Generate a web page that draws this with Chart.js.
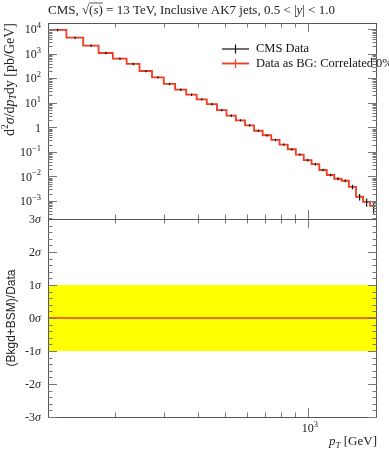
<!DOCTYPE html>
<html>
<head>
<meta charset="utf-8">
<script src="https://cdn.jsdelivr.net/npm/chart.js@4.4.1/dist/chart.umd.min.js"></script>
<style>
html, body { margin: 0; padding: 0; background: #fff; }
#wrap { position: relative; width: 389px; height: 450px; }
canvas { position: absolute; left: 0; top: 0; }
</style>
</head>
<body>
<div id="wrap">
  <canvas id="ratio" width="389" height="450"></canvas>
  <canvas id="main" width="389" height="450"></canvas>
</div>
<script>
// bin edges in pT [GeV]
const binEdges = [114, 133, 153, 174, 196, 220, 245, 272, 300, 330, 362, 395, 430, 468, 507, 548,
    592, 638, 686, 737, 790, 846, 905, 967, 1032, 1101, 1172, 1248, 1327, 1410, 1497, 1588, 1684, 1784]

// d2sigma/dpTdy [pb/GeV]
const cmsData = [9400, 4550, 2140, 1080, 633, 385, 199, 110, 59, 34.5, 21.5, 14, 8.9, 5.1, 3.0, 1.95,
    1.22, 0.73, 0.48, 0.31, 0.20, 0.129, 0.078, 0.046, 0.0316, 0.0184, 0.0115, 0.0081, 0.0067, 0.0038,
    0.00149, 0.00093, 0.00063]
const cmsErr = [1100, 520, 240, 120, 70, 42, 22, 12, 6.5, 3.8, 2.4, 1.5, 1.0, 0.56, 0.33, 0.21,
    0.13, 0.08, 0.052, 0.034, 0.022, 0.014, 0.0086, 0.0052, 0.0036, 0.0021, 0.0014, 0.0010, 0.0009, 0.0008,
    0.00045, 0.00035, 0.00032]

// ratio panel: 1 sigma band and central line
const ratioBand = [-1, 1]
const ratioCentre = 0

const xMinorTicks = [200, 300, 400, 500, 600, 700, 800, 900]
const xMajorTicks = [1000]
const xTickLabels = [{ value: 1000, base: "10", exp: "3" }]
const yDecades = [-3, -2, -1, 0, 1, 2, 3, 4]
const ySigmaTicks = [-3, -2, -1, 0, 1, 2, 3]

const xMin = 114, xMax = 1784
const yMin = 1.85e-4, yMax = 1.8e4

const RED = "#ee3d22"
const AXIS = "#555"
const SERIF = '"Liberation Serif", serif'

const drawRich = (ctx, parts, x, y, align) => {
    let w = 0
    parts.forEach(p => { ctx.font = p.font; p.w = ctx.measureText(p.t).width; w += p.w })
    let cx = align === "right" ? x - w : align === "center" ? x - w / 2 : x
    ctx.textAlign = "left"
    parts.forEach(p => {
        ctx.font = p.font
        ctx.fillText(p.t, cx, y + (p.dy || 0))
        if (p.over) {
            ctx.beginPath()
            ctx.moveTo(cx, y - 11)
            ctx.lineTo(cx + p.w, y - 11)
            ctx.lineWidth = 0.8
            ctx.stroke()
        }
        cx += p.w
    })
}

const f = (size, style = "") => `${style} ${size}px ${SERIF}`

const tick = (ctx, x1, y1, x2, y2) => {
    ctx.beginPath()
    ctx.moveTo(x1, y1)
    ctx.lineTo(x2, y2)
    ctx.stroke()
}

const xTicks = (ctx, xs, area, top, bottom) => {
    xMinorTicks.forEach(v => {
        const px = Math.round(xs.getPixelForValue(v)) + 0.5
        if (top) tick(ctx, px, area.top, px, area.top + 4.5)
        if (bottom) tick(ctx, px, area.bottom, px, area.bottom - 4.5)
    })
    xMajorTicks.forEach(v => {
        const px = Math.round(xs.getPixelForValue(v)) + 0.5
        if (top) tick(ctx, px, area.top, px, area.top + 9)
        if (bottom) tick(ctx, px, area.bottom, px, area.bottom - 9)
    })
}

const frame = (ctx, area) => {
    ctx.strokeStyle = AXIS
    ctx.lineWidth = 1
    ctx.strokeRect(area.left + 0.5, area.top + 0.5, area.right - area.left - 1, area.bottom - area.top)
}

const mainDecor = {
    id: "mainDecor",
    afterDatasetsDraw(chart) {
        const { ctx, scales: { x, y } } = chart
        ctx.save()
        ctx.strokeStyle = "#111"
        ctx.lineWidth = 1.2
        cmsData.forEach((v, i) => {
            const cx = x.getPixelForValue((binEdges[i] + binEdges[i + 1]) / 2)
            const lo = Math.max(v - cmsErr[i], yMin)
            tick(ctx, cx, y.getPixelForValue(v + cmsErr[i]), cx, y.getPixelForValue(lo))
        })
        ctx.restore()
    },
    afterDraw(chart) {
        const { ctx, chartArea: area, scales: { x, y } } = chart
        ctx.save()
        frame(ctx, area)
        ctx.strokeStyle = "#777"
        ctx.lineWidth = 1
        xTicks(ctx, x, area, true, true)
        // log y ticks, both sides
        yDecades.forEach(d => {
            for (let k = 1; k <= 9; k++) {
                const v = k * Math.pow(10, d)
                if (v < yMin || v > yMax) continue
                const py = Math.round(y.getPixelForValue(v)) + 0.5
                const len = k === 1 ? 9 : 4.5
                tick(ctx, area.left, py, area.left + len, py)
                tick(ctx, area.right, py, area.right - len, py)
            }
        })
        for (let k = 2; k <= 9; k++) {
            const v = k * 1e-4
            if (v < yMin) continue
            const py = Math.round(y.getPixelForValue(v)) + 0.5
            tick(ctx, area.left, py, area.left + 4.5, py)
            tick(ctx, area.right, py, area.right - 4.5, py)
        }
        // y tick labels
        ctx.fillStyle = "#222"
        ctx.textBaseline = "middle"
        yDecades.forEach(d => {
            const py = y.getPixelForValue(Math.pow(10, d)) + 1
            if (d === 0) {
                drawRich(ctx, [{ t: "1", font: f(12) }], 41, py, "right")
            } else {
                const e = d < 0 ? "\u2212" + (-d) : String(d)
                drawRich(ctx, [{ t: "10", font: f(12) }, { t: e, font: f(8.5), dy: -4.5 }], 41, py, "right")
            }
        })
        // title, left aligned with the frame
        ctx.textBaseline = "alphabetic"
        ctx.strokeStyle = "#222"
        drawRich(ctx, [
            { t: "CMS, \u221A", font: f(13) },
            { t: "(", font: f(13), over: true },
            { t: "s", font: f(13, "italic"), over: true },
            { t: ")", font: f(13), over: true },
            { t: " = 13 TeV, Inclusive AK7 jets, 0.5 < |", font: f(13) },
            { t: "y", font: f(13, "italic") },
            { t: "| < 1.0", font: f(13) }
        ], area.left, 14, "left")
        // y axis title
        ctx.save()
        ctx.translate(13.5, 23)
        ctx.rotate(-Math.PI / 2)
        drawRich(ctx, [
            { t: "d", font: f(14) },
            { t: "2", font: f(9.5), dy: -5.5 },
            { t: "\u03C3", font: f(14, "italic") },
            { t: "/d", font: f(14) },
            { t: "p", font: f(14, "italic") },
            { t: "T", font: f(9.5, "italic"), dy: 2.5 },
            { t: "dy [pb/GeV]", font: f(14) }
        ], 0, 0, "right")
        ctx.restore()
        // legend
        ctx.lineWidth = 1.2
        ctx.strokeStyle = "#111"
        tick(ctx, 222, 49, 249, 49)
        tick(ctx, 235.5, 44.5, 235.5, 53.5)
        ctx.strokeStyle = RED
        ctx.lineWidth = 1.8
        tick(ctx, 222, 63.5, 249, 63.5)
        ctx.lineWidth = 1.2
        tick(ctx, 235.5, 59, 235.5, 68)
        ctx.fillStyle = "#111"
        ctx.textBaseline = "middle"
        drawRich(ctx, [{ t: "CMS Data", font: f(12.5) }], 256, 49, "left")
        drawRich(ctx, [{ t: "Data as BG: Correlated 0%", font: f(12.5) }], 256, 63.5, "left")
        ctx.restore()
    }
}

const ratioDecor = {
    id: "ratioDecor",
    afterDraw(chart) {
        const { ctx, chartArea: area, scales: { x, y } } = chart
        ctx.save()
        frame(ctx, area)
        ctx.strokeStyle = "#777"
        ctx.lineWidth = 1
        xTicks(ctx, x, area, true, true)
        for (let s = -30; s <= 30; s += 2) {
            const py = Math.round(y.getPixelForValue(s / 10)) + 0.5
            const len = s % 10 === 0 ? 9 : 4.5
            tick(ctx, area.left, py, area.left + len, py)
            tick(ctx, area.right, py, area.right - len, py)
        }
        ctx.fillStyle = "#222"
        ctx.textBaseline = "middle"
        ySigmaTicks.forEach(s => {
            const py = y.getPixelForValue(s) + 1
            const n = s < 0 ? "-" + (-s) : String(s)
            drawRich(ctx, [{ t: n, font: f(12) }, { t: "\u03C3", font: f(12, "italic") }], 41, py, "right")
        })
        // x tick label
        ctx.textBaseline = "alphabetic"
        xTickLabels.forEach(l => {
            drawRich(ctx, [{ t: l.base, font: f(12) }, { t: l.exp, font: f(8.5), dy: -5 }],
                x.getPixelForValue(l.value) + 2, 432, "center")
        })
        drawRich(ctx, [
            { t: "p", font: f(13, "italic") },
            { t: "T", font: f(9, "italic"), dy: 2.5 },
            { t: " [GeV]", font: f(13) }
        ], area.right, 445, "right")
        // ratio axis title
        ctx.save()
        ctx.translate(15, (area.top + area.bottom) / 2)
        ctx.rotate(-Math.PI / 2)
        ctx.textBaseline = "alphabetic"
        drawRich(ctx, [{ t: "(Bkgd+BSM)/Data", font: '12px "Liberation Sans", sans-serif' }], 0, 0, "center")
        ctx.restore()
        ctx.restore()
    }
}

const stepPoints = cmsData.map((v, i) => ({ x: binEdges[i], y: v }))
stepPoints.push({ x: binEdges[binEdges.length - 1], y: cmsData[cmsData.length - 1] })

const baseOptions = (padding, yScale) => ({
    responsive: false,
    animation: false,
    devicePixelRatio: 1,
    layout: { padding: padding },
    scales: {
        x: { type: "logarithmic", min: xMin, max: xMax, display: false },
        y: { ...yScale, display: false }
    },
    plugins: { legend: { display: false }, tooltip: { enabled: false } }
})

new Chart(document.getElementById("main").getContext("2d"), {
    type: "line",
    data: {
        datasets: [{
            data: stepPoints,
            borderColor: RED,
            borderWidth: 1.8,
            stepped: true,
            pointRadius: 0,
            fill: false
        }]
    },
    options: baseOptions({ left: 48, right: 12, top: 23, bottom: 231 },
        { type: "logarithmic", min: yMin, max: yMax }),
    plugins: [mainDecor]
})

new Chart(document.getElementById("ratio").getContext("2d"), {
    type: "line",
    data: {
        datasets: [{
            // central line drawn above the band
            data: [{ x: xMin, y: ratioCentre }, { x: xMax, y: ratioCentre }],
            borderColor: RED,
            borderWidth: 1.5,
            pointRadius: 0,
            fill: false,
            order: 0
        }, {
            data: [{ x: xMin, y: ratioBand[1] }, { x: xMax, y: ratioBand[1] }],
            borderWidth: 0,
            pointRadius: 0,
            backgroundColor: "#ffff00",
            fill: { value: ratioBand[0] },
            order: 1
        }]
    },
    options: baseOptions({ left: 48, right: 12, top: 219, bottom: 33 },
        { type: "linear", min: -3, max: 3 }),
    plugins: [ratioDecor]
})
</script>
</body>
</html>
